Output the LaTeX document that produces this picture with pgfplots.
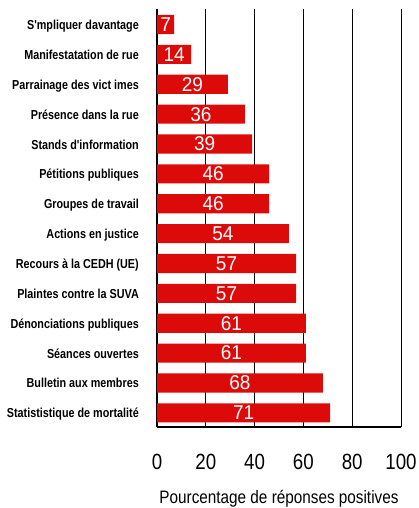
\documentclass[border=0pt]{standalone}
\usepackage{fontspec}
\usepackage{pgfplots}
\usepackage{pgfplotstable}
\pgfplotsset{compat=1.18}
\setmainfont{Liberation Sans}
\newfontfamily\catfont[FakeStretch=0.83,Ligatures=TeXOff]{Liberation Sans Bold}
\newfontfamily\tickfont[FakeStretch=0.85]{Liberation Sans}
\newfontfamily\valfont[FakeStretch=0.95]{Liberation Sans}
\definecolor{barred}{RGB}{221,10,10}

% y = position from the bottom, v = percentage
\pgfplotstableread{
y v
13 7
12 14
11 29
10 36
9 39
8 46
7 46
6 54
5 57
4 57
3 61
2 61
1 68
0 71
}\data

\begin{document}
\begin{tikzpicture}
  \begin{axis}[
      at={(0,0)}, anchor=south west,
      scale only axis,
      width=244pt, height=418pt,
      xmin=0, xmax=100,
      ymin=-0.475, ymax=13.52,
      xtick={0,20,40,60,80,100},
      ytick={0,...,13},
      yticklabels={
        Statististique de mortalité,
        Bulletin aux membres,
        Séances ouvertes,
        Dénonciations publiques,
        Plaintes contre la SUVA,
        Recours à la CEDH (UE),
        Actions en justice,
        Groupes de travail,
        Pétitions publiques,
        Stands d'information,
        Présence dans la rue,
        Parrainage des vict imes,
        Manifestatation de rue,
        S'mpliquer davantage
      },
      /pgf/number format/assume math mode=true,
      major tick length=0pt,
      axis lines=left,
      axis line style={-},
      x axis line style={line width=2pt},
      y axis line style={line width=2.5pt},
      xmajorgrids,
      major grid style={black, line width=0.9pt},
      xticklabel style={font=\tickfont\fontsize{22}{26}\selectfont, anchor=base, yshift=-42pt},
      yticklabel style={font=\catfont\fontsize{13}{15}\selectfont, anchor=base east, inner sep=0pt, xshift=-18pt, yshift=-5pt},
      xlabel={Pourcentage de réponses positives},
      xlabel style={font=\tickfont\fontsize{18}{22}\selectfont, at={(axis description cs:0.5,0)}, anchor=base, yshift=-76pt},
      clip=false,
    ]
    \addplot[xbar, bar width=0.64, fill=barred, draw=none] table[x=v, y=y] {\data};
    \addplot[draw=none, mark=none, nodes near coords, point meta=explicit symbolic,
      nodes near coords style={white, anchor=center, font=\valfont\fontsize{20}{24}\selectfont}]
      table[x expr=\thisrow{v}/2, y=y, meta=v] {\data};
  \end{axis}
  \pgfresetboundingbox
  \path[use as bounding box] (-157pt,-81pt) rectangle (261pt,427pt);
\end{tikzpicture}
\end{document}
